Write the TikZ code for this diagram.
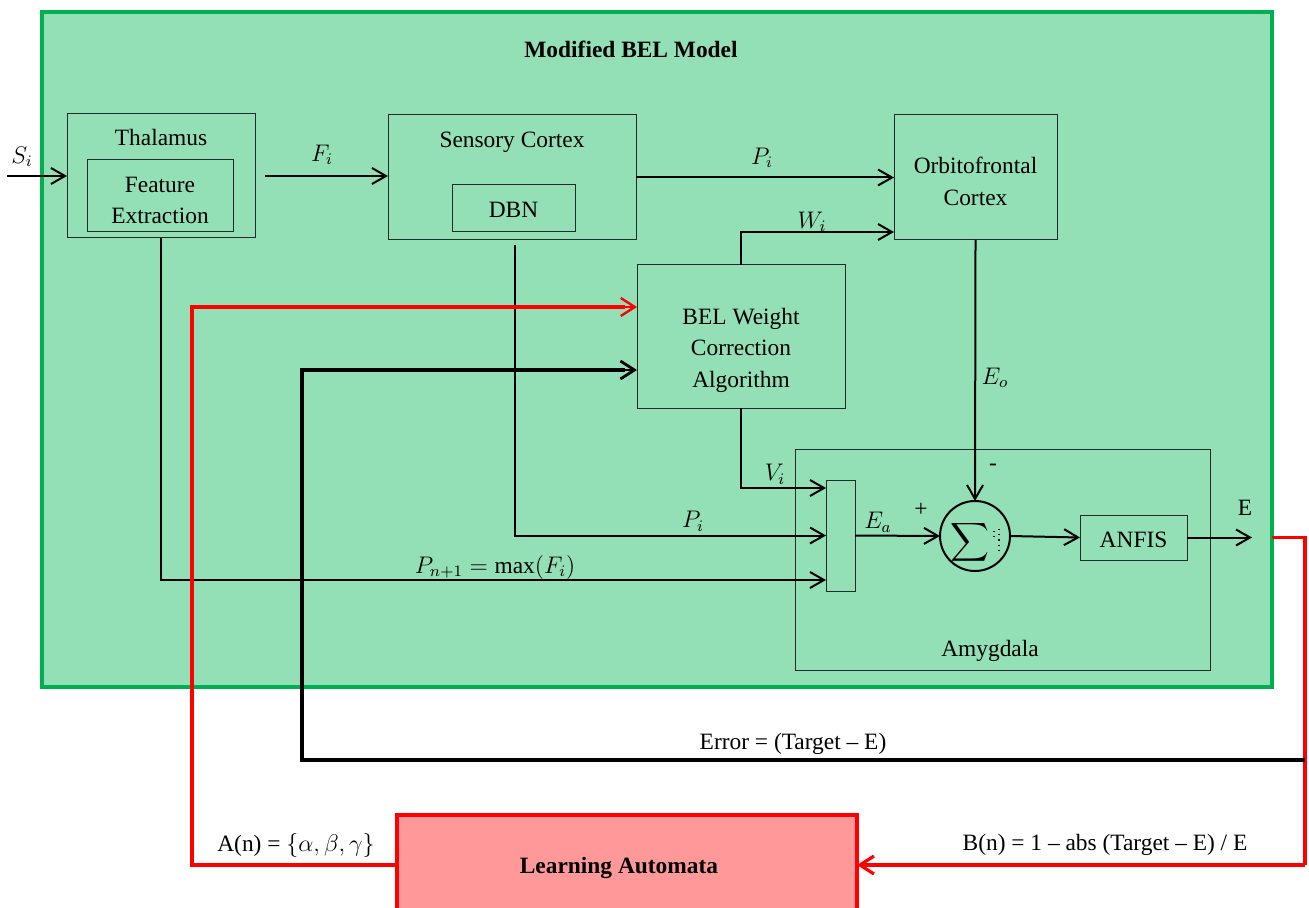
\documentclass[tikz,border=0pt]{standalone}
\usepackage{fontspec}
\setmainfont{Liberation Serif}
\usetikzlibrary{arrows.meta}
\definecolor{belgreen}{RGB}{147,223,182}
\definecolor{belborder}{RGB}{0,176,80}
\definecolor{lapink}{RGB}{255,153,153}
\definecolor{lared}{RGB}{255,0,0}
\definecolor{boxline}{RGB}{40,40,40}
\begin{document}
\begin{tikzpicture}[x=0.5pt,y=-0.5pt,
  every node/.style={font=\fontsize{11.7}{14}\selectfont, inner sep=0pt, outer sep=0pt},
  blk/.style={draw=boxline, line width=0.5pt, fill=belgreen},
  txt/.style={align=center, text height=9.5pt, text depth=1.5pt},
  conn/.style={line width=1pt, draw=black, -{Straight Barb[length=7pt,width=8pt]}},
  redconn/.style={line width=1.6pt, draw=lared},
  errconn/.style={line width=1.6pt, draw=black}
]
\clip (0,0) rectangle (1309,908);
\fill[white] (0,0) rectangle (1309,908);
% outer model
\node[draw=belborder, line width=2pt, fill=belgreen, minimum width=615pt, minimum height=337.5pt] (outer) at (657,349.5) {};
\node[txt, font=\fontsize{11.7}{14}\selectfont\bfseries] (title) at (631,50) {Modified BEL Model};
% thalamus
\node[blk, minimum width=94pt, minimum height=62pt] (thal) at (161,176) {};
\node[txt] (thaltxt) at (161,138) {Thalamus};
\node[blk, minimum width=73pt, minimum height=36pt] (feat) at (160,196) {};
\node[txt] (feattxt1) at (160,185) {Feature};
\node[txt] (feattxt2) at (160,216) {Extraction};
% sensory cortex
\node[blk, minimum width=124pt, minimum height=62.5pt] (sens) at (512,177.5) {};
\node[txt] (senstxt) at (512,140) {Sensory Cortex};
\node[blk, minimum width=61.5pt, minimum height=23.5pt] (dbn) at (513.5,208.5) {};
\node[txt] (dbntxt) at (513.5,210) {DBN};
% orbitofrontal
\node[blk, minimum width=81.5pt, minimum height=62.5pt] (orb) at (975.5,177.5) {};
\node[txt] (orbtxt1) at (975.5,166) {Orbitofrontal};
\node[txt] (orbtxt2) at (975.5,198) {Cortex};
% BEL weight correction
\node[blk, minimum width=104pt, minimum height=71.5pt] (bel) at (741,336.5) {};
\node[txt] (beltxt1) at (741,317) {BEL Weight};
\node[txt] (beltxt2) at (741,348) {Correction};
\node[txt] (beltxt3) at (741,379) {Algorithm};
% amygdala
\node[blk, minimum width=207.5pt, minimum height=110.5pt] (amy) at (1002.5,559.5) {};
\node[txt] (amytxt) at (990,648) {Amygdala};
\node[blk, minimum width=14.5pt, minimum height=55.5pt] (comb) at (840.5,535.5) {};
\node[draw=black, line width=1pt, fill=belgreen, circle, minimum size=35pt] (sum) at (975,536) {};
\node[scale=1.35] (sigma) at (970,542) {$\displaystyle\sum$};
\draw[dotted, line width=0.6pt] (994,531) -- (994,540);
\draw[dotted, line width=0.6pt] (999,529) -- (999,550);
\node[blk, minimum width=53.5pt, minimum height=22.5pt] (anfis) at (1133.5,537.5) {};
\node[txt] (anfistxt) at (1133.5,539) {ANFIS};
% learning automata
\node[draw=lared, line width=2pt, fill=lapink, minimum width=230pt, minimum height=50pt] (la) at (627,865) {};
\node[txt, font=\fontsize{11.7}{14}\selectfont\bfseries] (latxt) at (619,865) {Learning Automata};
% coordinates
\coordinate (sin) at (7,176);
\coordinate (eout) at (1252,537.5);
\coordinate (rs) at (1272,537.5);
\coordinate (rcorner) at (1305,537.5);
\coordinate (estart) at (1305,760);
\coordinate (ecorner) at (302,760);
\coordinate (belin1) at (637,307);
\coordinate (belin2) at (637,370);
\coordinate (acorner) at (192,865);
\coordinate (fstart) at (265,176);
\coordinate (dbnstart) at (515,245);
% connectors
\draw[conn] (sin) -- (thal.west);
\draw[conn] (fstart) -- (fstart -| sens.west);
\draw[conn] (sens.east) -- (orb.west);
\draw[conn] (bel.north) |- ([yshift=4pt]orb.south west);
\draw[conn] (orb.south) -- (sum.north);
\draw[conn] (bel.south) |- ([yshift=-4pt]comb.north west);
\draw[conn] (dbnstart) |- (comb.west);
\draw[conn] (thal.south) |- ([yshift=5.5pt]comb.south west);
\draw[conn] (comb.east) -- (sum.west);
\draw[conn] (sum.east) -- (anfis.west);
\draw[conn] (anfis.east) -- (eout);
% red feedback
\draw[redconn] (rs) -- (rcorner) -- (rcorner |- la.east);
\draw[redconn, -{Straight Barb[length=7pt,width=9pt]}] (rcorner |- la.east) -- (la.east);
\draw[redconn] (la.west) -- (acorner) |- ([xshift=-6pt]belin1);
\draw[line width=1.2pt, draw=lared, -{Straight Barb[length=7pt,width=9pt]}] ([xshift=-8pt]belin1) -- (belin1);
% error feedback
\draw[errconn] (estart) -- (ecorner) |- ([xshift=-6pt]belin2);
\draw[line width=1.4pt, -{Straight Barb[length=7pt,width=9pt]}] ([xshift=-8pt]belin2) -- (belin2);
% labels
\node (lsi) at (22,157) {$S_i$};
\node (lfi) at (322,155) {$F_i$};
\node (lpi1) at (762,158) {$P_i$};
\node (lwi) at (812,222) {$W_i$};
\node (leo) at (995,378) {$E_o$};
\node (lminus) at (993,467) {-};
\node (lvi) at (775,474) {$V_i$};
\node (lpi2) at (693,521) {$P_i$};
\node (lpn) at (495,567) {$P_{n+1}=\max(F_i)$};
\node (lea) at (878,522) {$E_a$};
\node (lplus) at (921,510) {+};
\node (le) at (1245,508) {E};
\node (lerr) at (793,744) {Error = (Target -- E)};
\node (la1) at (296,845) {A(n) = $\{\alpha,\beta,\gamma\}$};
\node (lb1) at (1105,845) {B(n) = 1 -- abs (Target -- E) / E};
\end{tikzpicture}
\end{document}
